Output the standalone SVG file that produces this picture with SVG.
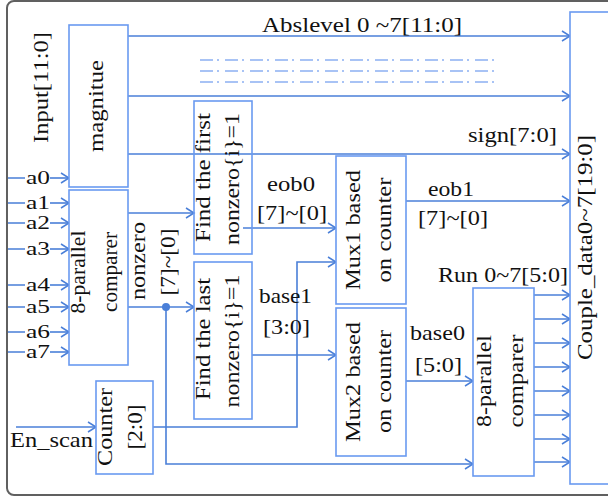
<svg xmlns="http://www.w3.org/2000/svg" width="608" height="497" viewBox="0 0 608 497">
  <defs>
    <marker id="arr" markerUnits="userSpaceOnUse" markerWidth="12" markerHeight="14" viewBox="-10 -7 12 14" refX="0" refY="0" orient="auto">
      <path d="M-8,-5 L0,0 L-8,5" fill="none" stroke="#4a7fd8" stroke-width="1.5"/>
    </marker>
    <style>
      .box { fill: #ffffff; stroke: #6a9af0; stroke-width: 1.6; }
      .ln { fill: none; stroke: #4a7fd8; stroke-width: 1.6; }
      .arw { marker-end: url(#arr); }
      .dd { fill: none; stroke: #8cb0f2; stroke-width: 1.6; stroke-dasharray: 13 4 2 6; }
      text { font-family: "Liberation Serif", "Times New Roman", serif; font-size: 22px; fill: #111; }
      .c { text-anchor: middle; }
      .pin { font-size: 19px; }
    </style>
  </defs>

  <!-- outer frame -->
  <rect x="7" y="1" width="620" height="494" rx="7" fill="#ffffff" stroke="#606060" stroke-width="2"/>

  <!-- connectors -->
  <g id="connectors">
    <!-- magnitude outputs -->
    <path class="ln arw" d="M128,36 H570"/>
    <path class="ln arw" d="M128,96 H570"/>
    <path class="ln arw" d="M128,154 H570"/>
    <path class="dd" d="M200,60 H500 M200,71 H500 M200,82 H500"/>
    <!-- inputs a0..a7 -->
    <path class="ln" d="M8,178 H25 M8,203 H25 M8,223 H25 M8,249 H25 M8,285 H25 M8,307 H25 M8,332 H25 M8,352 H25"/>
    <path class="ln arw" d="M50,178 H69"/>
    <path class="ln arw" d="M50,203 H69"/>
    <path class="ln arw" d="M50,223 H69"/>
    <path class="ln arw" d="M50,249 H69"/>
    <path class="ln arw" d="M50,285 H69"/>
    <path class="ln arw" d="M50,307 H69"/>
    <path class="ln arw" d="M50,332 H69"/>
    <path class="ln arw" d="M50,352 H69"/>
    <!-- nonzero -->
    <path class="ln arw" d="M128,213 H194"/>
    <path class="ln arw" d="M128,307 H194"/>
    <circle cx="166" cy="307" r="4" fill="#4a7fd8"/>
    <path class="ln arw" d="M166,307 V464 H473"/>
    <!-- eob0 / base1 -->
    <path class="ln arw" d="M243,228 H336"/>
    <path class="ln arw" d="M252,355 H336"/>
    <!-- counter -->
    <path class="ln arw" d="M16,427 H96"/>
    <path class="ln arw" d="M144,427 H297 V262 H336"/>
    <!-- mux outputs -->
    <path class="ln arw" d="M406,201 H570"/>
    <path class="ln arw" d="M406,381 H473"/>
    <!-- run outputs -->
    <path class="ln arw" d="M534,295 H570"/>
    <path class="ln arw" d="M534,319 H570"/>
    <path class="ln arw" d="M534,343 H570"/>
    <path class="ln arw" d="M534,367 H570"/>
    <path class="ln arw" d="M534,391 H570"/>
    <path class="ln arw" d="M534,415 H570"/>
    <path class="ln arw" d="M534,439 H570"/>
    <path class="ln arw" d="M534,462 H570"/>
  </g>

  <!-- signal labels -->
  <g id="labels">
    <text transform="translate(48,87.5) rotate(-90)" class="c" textLength="111" lengthAdjust="spacingAndGlyphs">Input[11:0]</text>
    <text class="pin" x="26" y="184" textLength="24" lengthAdjust="spacingAndGlyphs">a0</text>
    <text class="pin" x="26" y="209" textLength="24" lengthAdjust="spacingAndGlyphs">a1</text>
    <text class="pin" x="26" y="229" textLength="24" lengthAdjust="spacingAndGlyphs">a2</text>
    <text class="pin" x="26" y="255" textLength="24" lengthAdjust="spacingAndGlyphs">a3</text>
    <text class="pin" x="26" y="291" textLength="24" lengthAdjust="spacingAndGlyphs">a4</text>
    <text class="pin" x="26" y="313" textLength="24" lengthAdjust="spacingAndGlyphs">a5</text>
    <text class="pin" x="26" y="338" textLength="24" lengthAdjust="spacingAndGlyphs">a6</text>
    <text class="pin" x="26" y="358" textLength="24" lengthAdjust="spacingAndGlyphs">a7</text>
    <text x="10" y="447" textLength="83" lengthAdjust="spacingAndGlyphs">En_scan</text>
    <text transform="translate(145,261) rotate(-90)" class="c" textLength="78" lengthAdjust="spacingAndGlyphs">nonzero</text>
    <text transform="translate(175,262) rotate(-90)" class="c" textLength="67" lengthAdjust="spacingAndGlyphs">[7]~[0]</text>
    <text x="262" y="32" textLength="200" lengthAdjust="spacingAndGlyphs">Abslevel 0 ~7[11:0]</text>
    <text x="468" y="142" textLength="89" lengthAdjust="spacingAndGlyphs">sign[7:0]</text>
    <text x="267" y="191" textLength="48" lengthAdjust="spacingAndGlyphs">eob0</text>
    <text x="257" y="220" textLength="70" lengthAdjust="spacingAndGlyphs">[7]~[0]</text>
    <text x="259" y="303" textLength="53" lengthAdjust="spacingAndGlyphs">base1</text>
    <text x="263" y="334" textLength="47" lengthAdjust="spacingAndGlyphs">[3:0]</text>
    <text x="428" y="196" textLength="46" lengthAdjust="spacingAndGlyphs">eob1</text>
    <text x="418" y="225" textLength="70" lengthAdjust="spacingAndGlyphs">[7]~[0]</text>
    <text x="438" y="282" textLength="130" lengthAdjust="spacingAndGlyphs">Run 0~7[5:0]</text>
    <text x="410" y="340" textLength="55" lengthAdjust="spacingAndGlyphs">base0</text>
    <text x="415" y="372" textLength="47" lengthAdjust="spacingAndGlyphs">[5:0]</text>
  </g>

  <!-- blocks -->
  <g id="magnitude">
    <rect class="box" x="69" y="25" width="59" height="162"/>
    <text transform="translate(103,106) rotate(-90)" class="c" textLength="92" lengthAdjust="spacingAndGlyphs">magnitue</text>
  </g>
  <g id="comparer1">
    <rect class="box" x="69" y="190" width="59" height="175"/>
    <text transform="translate(85,272) rotate(-90)" class="c" textLength="83" lengthAdjust="spacingAndGlyphs">8-parallel</text>
    <text transform="translate(117,272) rotate(-90)" class="c" textLength="80" lengthAdjust="spacingAndGlyphs">comparer</text>
  </g>
  <g id="counter">
    <rect class="box" x="96" y="381" width="57" height="93"/>
    <text transform="translate(112,427) rotate(-90)" class="c" textLength="78" lengthAdjust="spacingAndGlyphs">Counter</text>
    <text transform="translate(142,427) rotate(-90)" class="c" textLength="45" lengthAdjust="spacingAndGlyphs">[2:0]</text>
  </g>
  <g id="find-first">
    <rect class="box" x="194" y="101" width="58" height="153" fill-opacity="0"/>
    <text transform="translate(210,177.5) rotate(-90)" class="c" textLength="129" lengthAdjust="spacingAndGlyphs">Find the first</text>
    <text transform="translate(239,179) rotate(-90)" class="c" textLength="132" lengthAdjust="spacingAndGlyphs">nonzero{i}=1</text>
  </g>
  <g id="find-last">
    <rect class="box" x="194" y="262" width="58" height="157"/>
    <text transform="translate(210,339) rotate(-90)" class="c" textLength="122" lengthAdjust="spacingAndGlyphs">Find the last</text>
    <text transform="translate(239,341) rotate(-90)" class="c" textLength="133" lengthAdjust="spacingAndGlyphs">nonzero{i}=1</text>
  </g>
  <g id="mux1">
    <rect class="box" x="336" y="156" width="70" height="148"/>
    <text transform="translate(360,230) rotate(-90)" class="c" textLength="120" lengthAdjust="spacingAndGlyphs">Mux1 based</text>
    <text transform="translate(391,230) rotate(-90)" class="c" textLength="105" lengthAdjust="spacingAndGlyphs">on counter</text>
  </g>
  <g id="mux2">
    <rect class="box" x="336" y="308" width="70" height="148"/>
    <text transform="translate(360,382) rotate(-90)" class="c" textLength="120" lengthAdjust="spacingAndGlyphs">Mux2 based</text>
    <text transform="translate(391,381.5) rotate(-90)" class="c" textLength="103" lengthAdjust="spacingAndGlyphs">on counter</text>
  </g>
  <g id="comparer2">
    <rect class="box" x="473" y="288" width="61" height="188"/>
    <text transform="translate(491,381) rotate(-90)" class="c" textLength="92" lengthAdjust="spacingAndGlyphs">8-parallel</text>
    <text transform="translate(523,381) rotate(-90)" class="c" textLength="93" lengthAdjust="spacingAndGlyphs">comparer</text>
  </g>
  <g id="couple-data">
    <rect class="box" x="570" y="12" width="60" height="472"/>
    <text transform="translate(592,247.5) rotate(-90)" class="c" textLength="225" lengthAdjust="spacingAndGlyphs">Couple_data0~7[19:0]</text>
  </g>
</svg>
